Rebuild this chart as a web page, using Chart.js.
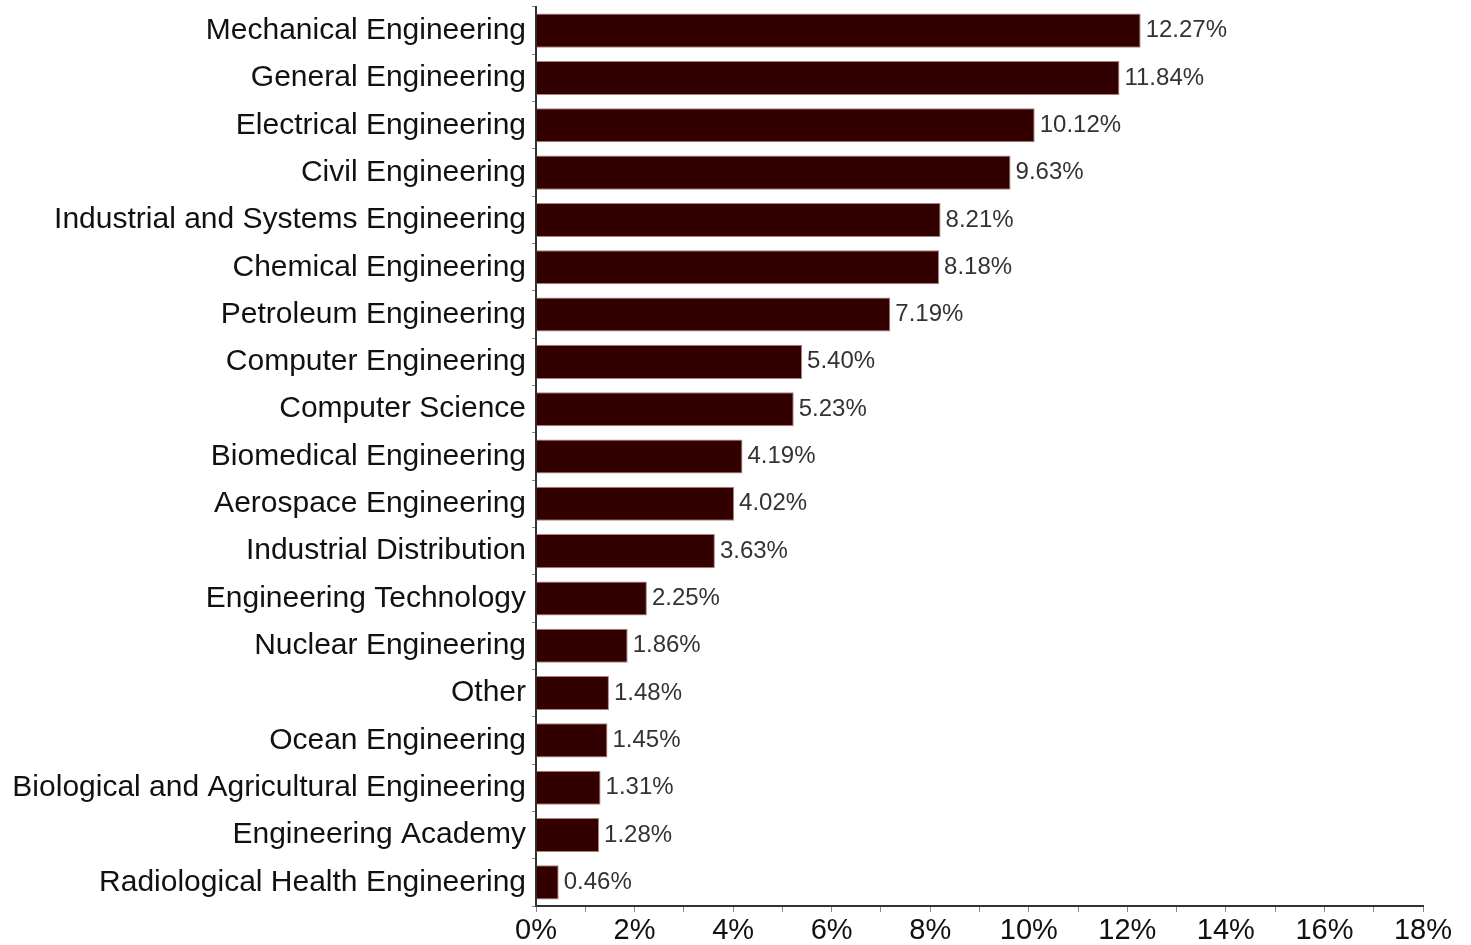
<!DOCTYPE html>
<html>
<head>
<meta charset="utf-8">
<script src="https://cdn.jsdelivr.net/npm/chart.js@4.4.1/dist/chart.umd.min.js"></script>
<style>
  html,body{margin:0;padding:0;background:#fff;}
  #wrap{width:1471px;height:945px;}
</style>
</head>
<body>
<div id="wrap"><canvas id="chart"></canvas></div>
<script>
const majors=[
  'Mechanical Engineering','General Engineering','Electrical Engineering','Civil Engineering',
  'Industrial and Systems Engineering','Chemical Engineering','Petroleum Engineering',
  'Computer Engineering','Computer Science','Biomedical Engineering','Aerospace Engineering',
  'Industrial Distribution','Engineering Technology','Nuclear Engineering','Other',
  'Ocean Engineering','Biological and Agricultural Engineering','Engineering Academy',
  'Radiological Health Engineering'
];
const shares=[12.27,11.84,10.12,9.63,8.21,8.18,7.19,5.40,5.23,4.19,4.02,3.63,2.25,1.86,1.48,1.45,1.31,1.28,0.46];
const xMax=18;

// value text at the end of each bar
const valueLabels={
  id:'valueLabels',
  afterDatasetsDraw(chart){
    const {ctx}=chart;
    const meta=chart.getDatasetMeta(0);
    ctx.save();
    ctx.font='24px "Liberation Sans", Arial, sans-serif';
    ctx.fillStyle='#333';
    ctx.textAlign='left';
    ctx.textBaseline='middle';
    meta.data.forEach((bar,i)=>{
      ctx.fillText(shares[i].toFixed(2)+'%', bar.x+5, bar.y);
    });
    ctx.restore();
  }
};

new Chart(document.getElementById('chart'),{
  type:'bar',
  data:{
    labels:majors,
    datasets:[{
      data:shares,
      backgroundColor:'#330000',
      borderColor:'#b08080',
      borderWidth:1,
      barPercentage:0.72,
      categoryPercentage:1
    }]
  },
  options:{
    indexAxis:'y',
    responsive:true,
    maintainAspectRatio:false,
    animation:false,
    layout:{ padding:{ top:7, right:48, bottom:0, left:0 } },
    plugins:{ legend:{display:false}, tooltip:{enabled:false} },
    scales:{
      x:{
        min:0, max:xMax,
        ticks:{
          stepSize:1, autoSkip:false, maxRotation:0, padding:2,
          color:'#111',
          font:{ family:'"Liberation Sans", Arial, sans-serif', size:29 },
          callback:(v)=> v%2===0 ? v+'%' : ''
        },
        grid:{ drawOnChartArea:false, tickLength:6, color:'#888', tickColor:'#888' },
        border:{ color:'#333', width:2 },
        afterFit(scale){ scale.height=39; scale.paddingLeft=0; scale.paddingRight=0; }
      },
      y:{
        ticks:{
          autoSkip:false, padding:6, color:'#111',
          font:{ family:'"Liberation Sans", Arial, sans-serif', size:30 }
        },
        grid:{ drawOnChartArea:false, tickLength:4, color:'#888', tickColor:'#888' },
        border:{ color:'#333', width:2 },
        afterFit(scale){ scale.width=536; scale.paddingTop=0; scale.paddingBottom=0; }
      }
    }
  },
  plugins:[valueLabels]
});
</script>
</body>
</html>
